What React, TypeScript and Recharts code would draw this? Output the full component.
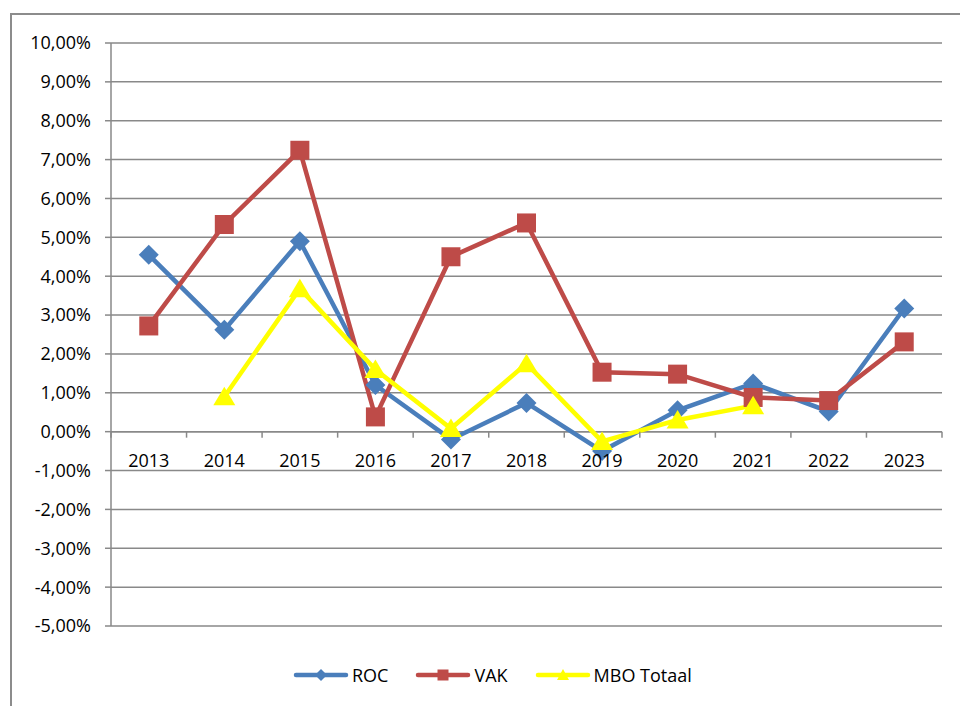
import React from 'react';
import { LineChart, Line, XAxis, YAxis, CartesianGrid, Legend, ReferenceLine } from 'recharts';

const categories = ['2013', '2014', '2015', '2016', '2017', '2018', '2019', '2020', '2021', '2022', '2023'];
const rocValues = [4.55, 2.62, 4.9, 1.2, -0.2, 0.74, -0.5, 0.55, 1.24, 0.52, 3.17];
const vakValues = [2.72, 5.33, 7.24, 0.38, 4.5, 5.37, 1.53, 1.48, 0.88, 0.8, 2.31];
const mboValues: (number | null)[] = [null, 0.9, 3.68, 1.6, 0.08, 1.75, -0.25, 0.3, 0.67, null, null];
const yTicks = [-5, -4, -3, -2, -1, 0, 1, 2, 3, 4, 5, 6, 7, 8, 9, 10];

const data = categories.map((year, i) => ({
  year,
  ROC: rocValues[i],
  VAK: vakValues[i],
  MBO: mboValues[i],
}));

const FONT = '"Open Sans", "Noto Sans", sans-serif';
const BLUE = '#4A7EBB';
const RED = '#BE4B48';
const YELLOW = '#FFFF00';
const GRID = '#898989';

const W = 960;
const H = 706;
const X_H = 10;
const M = { top: 43, right: 18, bottom: 80 - X_H, left: 0 };
const Y_W = 111;
const PLOT_TOP = M.top;
const PLOT_H = H - M.top - M.bottom - X_H;
const PLOT_W = W - M.left - Y_W - M.right;
const Y_MIN = -5;
const Y_MAX = 10;
const ZERO_Y = PLOT_TOP + PLOT_H * (Y_MAX / (Y_MAX - Y_MIN));
const BAND = PLOT_W / categories.length;

const fmt = (v: number) => v.toFixed(2).replace('.', ',') + '%';

const Diamond = (p: any) => {
  const { cx, cy, r = 10, fill } = p;
  if (cx == null || cy == null) return <g />;
  return <path d={`M${cx},${cy - r}L${cx + r},${cy}L${cx},${cy + r}L${cx - r},${cy}Z`} fill={fill} />;
};
const Square = (p: any) => {
  const { cx, cy, s = 19, fill } = p;
  if (cx == null || cy == null) return <g />;
  return <rect x={cx - s / 2} y={cy - s / 2} width={s} height={s} fill={fill} />;
};
const Triangle = (p: any) => {
  const { cx, cy, w = 11, h = 10, fill } = p;
  if (cx == null || cy == null) return <g />;
  return <path d={`M${cx},${cy - h}L${cx + w},${cy + h * 0.85}L${cx - w},${cy + h * 0.85}Z`} fill={fill} />;
};

const XTick = (props: any) => {
  const { x, payload, index } = props;
  const isLast = index === categories.length - 1;
  return (
    <g>
      <line x1={x - BAND / 2} x2={x - BAND / 2} y1={ZERO_Y} y2={ZERO_Y + 6} stroke={GRID} strokeWidth={1.5} />
      {isLast && (
        <line x1={x + BAND / 2} x2={x + BAND / 2} y1={ZERO_Y} y2={ZERO_Y + 6} stroke={GRID} strokeWidth={1.5} />
      )}
      <text x={x} y={ZERO_Y + 28} textAnchor="middle" dominantBaseline="central" fill="#000" fontSize={18} fontFamily={FONT}>
        {payload.value}
      </text>
    </g>
  );
};

const legendItems = [
  { name: 'ROC', color: BLUE, kind: 'diamond' },
  { name: 'VAK', color: RED, kind: 'square' },
  { name: 'MBO Totaal', color: YELLOW, kind: 'triangle' },
];

const LegendContent = () => (
  <div style={{ display: 'flex', alignItems: 'center', fontFamily: FONT, fontSize: 18, color: '#000' }}>
    {legendItems.map((it, i) => (
      <div key={it.name} style={{ display: 'flex', alignItems: 'center', marginRight: i < 2 ? 27 : 0 }}>
        <svg width={56} height={24} style={{ display: 'block' }}>
          <line x1={3} x2={53} y1={12} y2={12} stroke={it.color} strokeWidth={4.5} strokeLinecap="round" />
          {it.kind === 'diamond' && <Diamond cx={28} cy={12} r={6} fill={it.color} />}
          {it.kind === 'square' && <Square cx={28} cy={12} s={11} fill={it.color} />}
          {it.kind === 'triangle' && <Triangle cx={28} cy={12} w={6} h={6} fill={it.color} />}
        </svg>
        <span style={{ marginLeft: 3, lineHeight: '24px' }}>{it.name}</span>
      </div>
    ))}
  </div>
);

export default function App() {
  return (
    <div style={{ position: 'absolute', left: 0, top: 0, width: W, height: H, overflow: 'hidden', background: '#fff', fontFamily: FONT }}>
      <div style={{ position: 'absolute', left: 10, top: 13, width: 1000, height: 1000, border: '2px solid #8c8c8c' }} />
      <div style={{ position: 'absolute', left: 0, top: 0 }}>
        <LineChart width={W} height={H} data={data} margin={M}>
          <CartesianGrid vertical={false} stroke={GRID} strokeWidth={1.5} />
          <XAxis
            dataKey="year"
            scale="band"
            height={X_H}
            axisLine={false}
            tickLine={false}
            interval={0}
            tick={(p: any) => <XTick key={`t${p.index}`} {...p} />}
          />
          <YAxis
            width={Y_W}
            domain={[Y_MIN, Y_MAX]}
            ticks={yTicks}
            interval={0}
            tickFormatter={fmt}
            axisLine={{ stroke: GRID, strokeWidth: 1.5 }}
            tickLine={{ stroke: GRID, strokeWidth: 1.5 }}
            tickSize={6}
            tickMargin={14}
            tick={{ fill: '#000', fontSize: 18, fontFamily: FONT }}
          />
          <ReferenceLine y={0} stroke={GRID} strokeWidth={1.5} />
          <Legend
            layout="horizontal"
            verticalAlign="middle"
            align="center"
            wrapperStyle={{ top: 663, left: 293, width: 500 }}
            content={<LegendContent />}
          />
          <Line
            dataKey="ROC"
            name="ROC"
            stroke={BLUE}
            strokeWidth={4.5}
            isAnimationActive={false}
            dot={(p: any) => <Diamond key={`r${p.index}`} cx={p.cx} cy={p.cy} r={10} fill={BLUE} />}
            activeDot={false}
          />
          <Line
            dataKey="VAK"
            name="VAK"
            stroke={RED}
            strokeWidth={4.5}
            isAnimationActive={false}
            dot={(p: any) => <Square key={`v${p.index}`} cx={p.cx} cy={p.cy} s={19} fill={RED} />}
            activeDot={false}
          />
          <Line
            dataKey="MBO"
            name="MBO Totaal"
            stroke={YELLOW}
            strokeWidth={4.5}
            isAnimationActive={false}
            dot={(p: any) => <Triangle key={`m${p.index}`} cx={p.cx} cy={p.cy} w={11} h={10} fill={YELLOW} />}
            activeDot={false}
          />
        </LineChart>
      </div>
    </div>
  );
}
